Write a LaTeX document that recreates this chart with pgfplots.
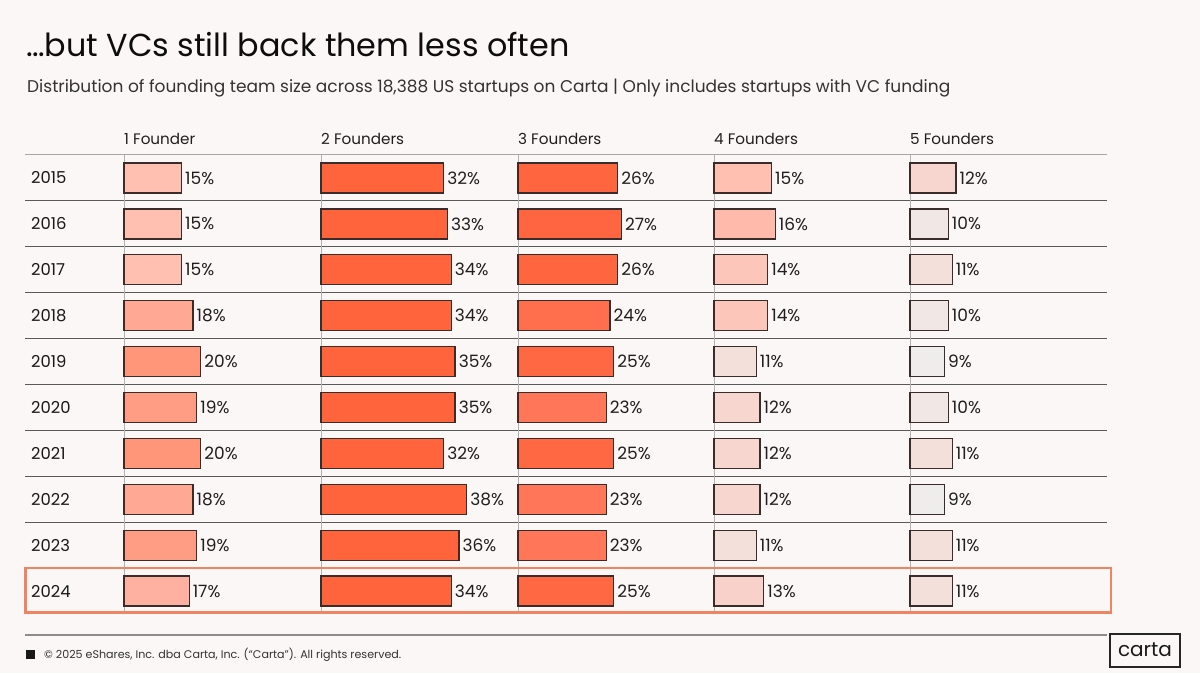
\documentclass[border=0pt]{standalone}
\usepackage{pgfplots}
\pgfplotsset{compat=1.18}
\usepackage{fontspec}
\setmainfont{Poppins}
\definecolor{bg}{HTML}{FBF7F6}
\definecolor{bardraw}{HTML}{3A2C2A}
\definecolor{boxc}{HTML}{F08462}
\definecolor{c9}{HTML}{EFECEC}
\definecolor{c10}{HTML}{F1E7E4}
\definecolor{c11}{HTML}{F4E0DB}
\definecolor{c12}{HTML}{F7D6CF}
\definecolor{c13}{HTML}{F8D2CA}
\definecolor{c14}{HTML}{FDC6BA}
\definecolor{c15}{HTML}{FFC0B2}
\definecolor{c16}{HTML}{FFBAAB}
\definecolor{c17}{HTML}{FFB1A1}
\definecolor{c18}{HTML}{FFA893}
\definecolor{c19}{HTML}{FF9D84}
\definecolor{c20}{HTML}{FF967A}
\definecolor{c23}{HTML}{FF7658}
\definecolor{c24}{HTML}{FF6F4D}
\definecolor{c25}{HTML}{FF6843}
\definecolor{c26}{HTML}{FF6640}
\definecolor{c27}{HTML}{FF6540}
\definecolor{c32}{HTML}{FF643D}
\definecolor{c33}{HTML}{FF643D}
\definecolor{c34}{HTML}{FF643D}
\definecolor{c35}{HTML}{FF643D}
\definecolor{c36}{HTML}{FF643D}
\definecolor{c38}{HTML}{FF643D}
\newcommand\cb[2]{\addplot[draw=bardraw, line width=1.3pt, fill=c#2] coordinates {(#2,#1)};}
\pgfplotsset{colax/.style={scale only axis, width=197pt, height=459pt,
  xmin=0, xmax=51.4, ymin=0.5, ymax=10.5, y dir=reverse, hide axis, clip=false,
  xbar, bar width=30pt, bar shift=0pt, point meta=x,
  /pgf/number format/assume math mode=true,
  nodes near coords={\pgfmathprintnumber{\pgfplotspointmeta}\%},
  every node near coord/.append style={font=\fontsize{17}{20}\selectfont, text=black!88, inner sep=3pt},
  anchor=south west}}
\begin{document}
\begin{tikzpicture}[x=1pt,y=1pt]
\fill[bg] (0pt,0pt) rectangle (1200pt,673pt);
\node[anchor=base west, inner sep=0, font=\fontsize{31.8}{36}\selectfont, text=black!95] at (26,673-57) {…but VCs still back them less often};
\node[anchor=base west, inner sep=0, font=\fontsize{17}{20}\selectfont, text=black!80] at (27,673-93) {Distribution of founding team size across 18,388 US startups on Carta | Only includes startups with VC funding};
% headers
\foreach \x/\t in {124/1 Founder, 321/2 Founders, 518/3 Founders, 714/4 Founders, 910/5 Founders}
  \node[anchor=base west, inner sep=0, font=\fontsize{15.2}{17}\selectfont, text=black!88] at (\x,673-145) {\t};
% grid lines
\draw[black!35, line width=1pt] (25,673-155) -- (1107,673-155);
\foreach \k in {1,...,9}
  \draw[black!65, line width=1.2pt] (25,{673-155-45.9*\k}) -- (1107,{673-155-45.9*\k});
\foreach \x in {124,321,518,714,910}
  \draw[black!30, line width=0.8pt] (\x,673-155) -- (\x,673-614);
% years
\foreach \i/\yr in {1/2015,2/2016,3/2017,4/2018,5/2019,6/2020,7/2021,8/2022,9/2023,10/2024}
  \node[anchor=west, inner sep=0, font=\fontsize{16.4}{19}\selectfont, text=black!90] at (31,{673-155-45.9*(\i-0.5)}) {\yr};
% 1 founder
\begin{axis}[colax, at={(124pt,59pt)}]
\cb{1}{15}\cb{2}{15}\cb{3}{15}\cb{4}{18}\cb{5}{20}\cb{6}{19}\cb{7}{20}\cb{8}{18}\cb{9}{19}\cb{10}{17}
\end{axis}
% 2 founders
\begin{axis}[colax, at={(321pt,59pt)}]
\cb{1}{32}\cb{2}{33}\cb{3}{34}\cb{4}{34}\cb{5}{35}\cb{6}{35}\cb{7}{32}\cb{8}{38}\cb{9}{36}\cb{10}{34}
\end{axis}
% 3 founders
\begin{axis}[colax, at={(518pt,59pt)}]
\cb{1}{26}\cb{2}{27}\cb{3}{26}\cb{4}{24}\cb{5}{25}\cb{6}{23}\cb{7}{25}\cb{8}{23}\cb{9}{23}\cb{10}{25}
\end{axis}
% 4 founders
\begin{axis}[colax, at={(714pt,59pt)}]
\cb{1}{15}\cb{2}{16}\cb{3}{14}\cb{4}{14}\cb{5}{11}\cb{6}{12}\cb{7}{12}\cb{8}{12}\cb{9}{11}\cb{10}{13}
\end{axis}
% 5 founders
\begin{axis}[colax, at={(910pt,59pt)}]
\cb{1}{12}\cb{2}{10}\cb{3}{11}\cb{4}{10}\cb{5}{9}\cb{6}{10}\cb{7}{11}\cb{8}{9}\cb{9}{11}\cb{10}{11}
\end{axis}
% highlight box
\draw[boxc, line width=2.5pt] (25.5,673-568) rectangle (1111,673-612.5);
% footer
\draw[black!45, line width=1.2pt] (25,673-635) -- (1107,673-635);
\fill[black!90] (26,673-650) rectangle (35,673-659);
\node[anchor=west, inner sep=0, font=\fontsize{11.1}{13}\selectfont, text=black!80] at (44,673-655) {© 2025 eShares, Inc. dba Carta, Inc. (“Carta”). All rights reserved.};
\draw[black!85, line width=1.2pt] (1110,673-634) rectangle (1180,673-667);
\node[font=\fontsize{20}{24}\selectfont, text=black!90, inner sep=0] at (1145,673-650) {carta};
\end{tikzpicture}
\end{document}
